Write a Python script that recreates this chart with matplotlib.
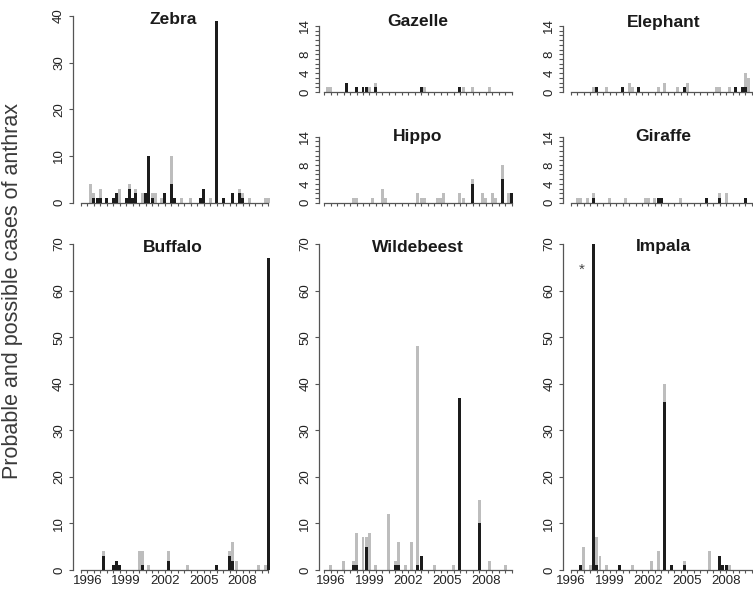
import numpy as np
import matplotlib
matplotlib.use("Agg")
import matplotlib.pyplot as plt

plt.rcParams['font.family'] = ['Liberation Sans', 'DejaVu Sans']

# quarter bins: index 0 = 1995 Q3 ... index 58 = 2010 Q1 (index 2 = 1996 Q1)
n_bins = 59
year_labels = ["1996", "1999", "2002", "2005", "2008"]

# ---- data: bin index, probable (black), possible (grey, on top) ----
zebra_bin      = [3, 4, 5, 6, 8, 10, 11, 12, 14, 15, 16, 17, 19, 20, 21, 22, 23, 25, 26, 28, 29, 31, 34, 37, 38, 40, 42, 44, 47, 49, 50, 52, 57, 58]
zebra_prob     = [0, 1, 1, 1, 1, 1, 2, 0, 1, 3, 1, 2, 0, 2, 10, 1, 0, 0, 2, 4, 1, 0, 0, 1, 3, 0, 39, 1, 2, 2, 1, 0, 0, 0]
zebra_poss     = [4, 1, 0, 2, 0, 0, 0, 3, 0, 1, 0, 1, 2, 0, 0, 1, 2, 1, 0, 6, 0, 1, 1, 0, 0, 1, 0, 0, 0, 1, 1, 1, 1, 1]

gazelle_bin    = [1, 2, 7, 10, 12, 13, 14, 16, 30, 31, 42, 43, 46, 51]
gazelle_prob   = [0, 0, 2, 1, 1, 1, 0, 1, 1, 0, 1, 0, 0, 0]
gazelle_poss   = [1, 1, 0, 0, 0, 0, 1, 1, 0, 1, 0, 1, 1, 1]

hippo_bin      = [9, 10, 15, 18, 19, 29, 30, 31, 35, 36, 37, 42, 43, 46, 49, 50, 52, 53, 55, 57, 58]
hippo_prob     = [0, 0, 0, 0, 0, 0, 0, 0, 0, 0, 0, 0, 0, 4, 0, 0, 0, 0, 5, 0, 2]
hippo_poss     = [1, 1, 1, 3, 1, 2, 1, 1, 1, 1, 2, 2, 1, 1, 2, 1, 2, 1, 3, 2, 0]

elephant_bin   = [7, 8, 11, 16, 18, 19, 21, 27, 29, 33, 35, 36, 45, 46, 49, 51, 53, 54, 55]
elephant_prob  = [0, 1, 0, 1, 0, 0, 1, 0, 0, 0, 1, 0, 0, 0, 0, 1, 1, 1, 0]
elephant_poss  = [1, 0, 1, 0, 2, 1, 0, 1, 2, 1, 0, 2, 1, 1, 1, 0, 0, 3, 3]

giraffe_bin    = [2, 3, 5, 7, 12, 17, 23, 24, 26, 27, 28, 34, 42, 46, 48, 54]
giraffe_prob   = [0, 0, 0, 1, 0, 0, 0, 0, 0, 1, 1, 0, 1, 1, 0, 1]
giraffe_poss   = [1, 1, 1, 1, 1, 1, 1, 1, 1, 0, 0, 1, 0, 1, 2, 0]

buffalo_bin    = [7, 10, 11, 12, 18, 19, 21, 27, 33, 42, 46, 47, 48, 55, 57, 58]
buffalo_prob   = [3, 1, 2, 1, 0, 1, 0, 2, 0, 1, 3, 2, 0, 0, 0, 67]
buffalo_poss   = [1, 0, 0, 0, 4, 3, 1, 2, 1, 0, 1, 4, 2, 1, 1, 0]

wildebeest_bin  = [2, 6, 9, 10, 12, 13, 14, 16, 20, 22, 23, 25, 27, 29, 30, 34, 40, 42, 48, 51, 56]
wildebeest_prob = [0, 0, 1, 1, 0, 5, 0, 0, 0, 1, 1, 0, 0, 1, 3, 0, 0, 37, 10, 0, 0]
wildebeest_poss = [1, 2, 1, 7, 7, 2, 8, 1, 12, 1, 5, 1, 6, 47, 0, 1, 1, 0, 5, 2, 1]

impala_bin     = [3, 4, 6, 7, 8, 9, 11, 15, 19, 25, 27, 29, 31, 35, 43, 46, 47, 48, 49]
impala_prob    = [1, 0, 0, 70, 1, 0, 0, 1, 0, 0, 0, 36, 1, 1, 0, 3, 1, 1, 0]
impala_poss    = [0, 5, 1, 0, 6, 3, 1, 0, 1, 2, 4, 4, 0, 1, 4, 0, 0, 0, 1]

# ---- layout (pixels of a 753 x 600 figure) ----
W, H = 753, 600
PX_PER_BIN = 3.233
BLACK = '#1c1c1c'
GREY = '#bdbdbd'
AXC = '#555555'

fig = plt.figure(figsize=(W / 100, H / 100), dpi=100)

# column: (y-axis x pixel, x pixel of bin 0, year-label bins)
columns = {
    0: (73.0, 80.9, [2, 14, 26, 38, 50]),
    1: (319.3, 324.2, [2, 14, 26, 38, 50]),
    2: (563.3, 570.9, [0, 12, 24, 36, 48]),
}

panels = [
    # name, column, zero-line px, top px, ymax, kind, title y px, data
    ("Zebra", 0, 202.7, 16.0, 40, "mid", 19, zebra_bin, zebra_prob, zebra_poss),
    ("Gazelle", 1, 92.0, 26.0, 14, "small", 22, gazelle_bin, gazelle_prob, gazelle_poss),
    ("Hippo", 1, 202.7, 136.7, 14, "small", 137, hippo_bin, hippo_prob, hippo_poss),
    ("Elephant", 2, 92.0, 26.0, 14, "small", 22, elephant_bin, elephant_prob, elephant_poss),
    ("Giraffe", 2, 202.7, 136.7, 14, "small", 137, giraffe_bin, giraffe_prob, giraffe_poss),
    ("Buffalo", 0, 570.0, 244.0, 70, "big", 247, buffalo_bin, buffalo_prob, buffalo_poss),
    ("Wildebeest", 1, 570.0, 244.0, 70, "big", 247, wildebeest_bin, wildebeest_prob, wildebeest_poss),
    ("Impala", 2, 570.0, 244.0, 70, "big", 247, impala_bin, impala_prob, impala_poss),
]

XMAX = 59.5
for name, col, y0, ytop, ymax, kind, ty, bins, prob, poss in panels:
    left_px, k0_px, lab_bins = columns[col]
    xmin = -(k0_px - left_px) / PX_PER_BIN
    width_px = (XMAX - xmin) * PX_PER_BIN
    ax = fig.add_axes([left_px / W, 1 - y0 / H, width_px / W, (y0 - ytop) / H])
    ax.set_xlim(xmin, XMAX)
    ax.set_ylim(0, ymax)
    ax.patch.set_alpha(0)

    prob = np.array(prob, dtype=float)
    poss = np.array(poss, dtype=float)
    ax.bar(bins, prob, width=0.92, color=BLACK, linewidth=0, zorder=3)
    ax.bar(bins, poss, width=0.92, bottom=prob, color=GREY, linewidth=0, zorder=2)

    for s in ("top", "right"):
        ax.spines[s].set_visible(False)
    for s in ("left", "bottom"):
        ax.spines[s].set_color(AXC)
        ax.spines[s].set_linewidth(0.9)
    ax.spines["bottom"].set_bounds(0, 58)
    ax.spines["left"].set_bounds(0, ymax)

    xt = list(range(0, 59, 2))
    ax.set_xticks(xt)
    if kind == "big":
        labs = []
        for k in xt:
            labs.append(year_labels[lab_bins.index(k)] if k in lab_bins else "")
        ax.set_xticklabels(labs, fontsize=9.5, color='#222222')
    else:
        ax.set_xticklabels([""] * len(xt))
    ax.tick_params(axis='x', length=2.4, width=0.8, color=AXC, pad=1.5)

    if kind == "small":
        yt = list(range(0, 15))
        ylabs = [str(v) if v in (0, 4, 8, 14) else "" for v in yt]
    else:
        yt = list(range(0, ymax + 1, 10))
        ylabs = [str(v) for v in yt]
    ax.set_yticks(yt)
    ax.set_yticklabels(ylabs, rotation=90, va='center', fontsize=9.5, color='#222222')
    ax.tick_params(axis='y', length=3.2, width=0.8, color=AXC, pad=2.5)

    fig.text((left_px + width_px / 2) / W, 1 - ty / H, name, ha='center', va='center',
             fontsize=12.5, fontweight='bold', color='#1a1a1a')

    if name == "Impala":
        ax.text(3.5, 64.5, "*", ha='center', va='center', fontsize=11, color='#444444')

fig.text(13 / W, 1 - 291 / H, "Probable and possible cases of anthrax", rotation=90,
         ha='center', va='center', fontsize=15.5, color='#3a3a3a')

fig.savefig("out.png", dpi=100)
